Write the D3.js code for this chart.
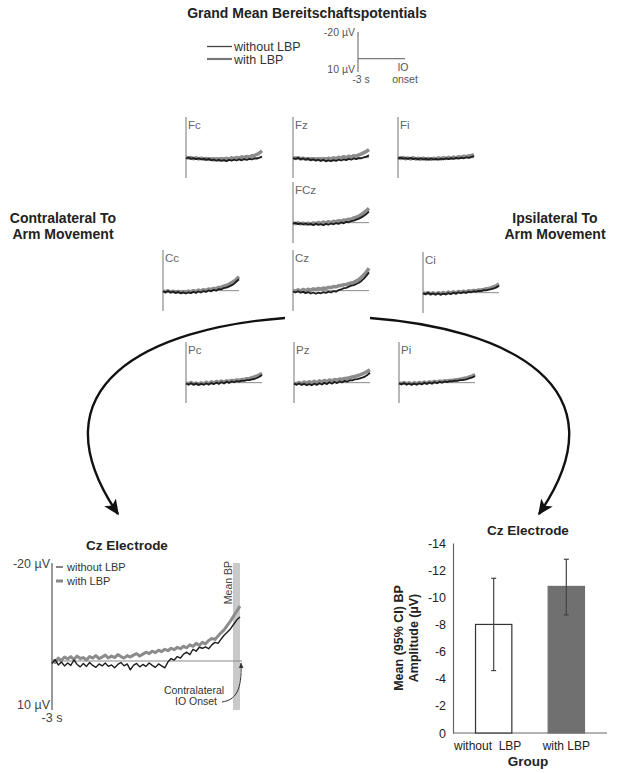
<!DOCTYPE html>
<html><head><meta charset="utf-8">
<script src="https://cdn.jsdelivr.net/npm/d3@7"></script>
<style>body{margin:0;background:#fff}svg{display:block;font-family:"Liberation Sans",Arial,sans-serif}</style>
</head><body><svg id="c" width="619" height="773"></svg>
<script>
// ---------------- DATA ----------------
const seriesNames = ["without LBP", "with LBP"];
const electrodes = ["Fc","Fz","Fi","FCz","Cc","Cz","Ci","Pc","Pz","Pi"];
// small panels: values in µV, every 100 ms from -3 s to IO onset
const smallTimes = [-3000,-2900,-2800,-2700,-2600,-2500,-2400,-2300,-2200,-2100,-2000,-1900,-1800,-1700,-1600,-1500,-1400,-1300,-1200,-1100,-1000,-900,-800,-700,-600,-500,-400,-300,-200,-100,0];
const fcWithout = [0.4,-0.1,0.6,0.2,0.7,0.3,0.9,0.5,1.1,0.6,1.3,0.9,1.5,1.0,1.6,1.2,1.7,1.1,1.5,1.0,1.4,0.8,1.3,0.7,1.1,0.6,0.9,0.4,0.5,0.0,-0.6];
const fcWith    = [-0.3,0.2,-0.1,0.5,0.1,0.6,0.2,0.8,0.4,0.9,0.6,1.1,0.7,1.2,0.5,1.0,0.3,0.8,0.1,0.5,-0.1,0.3,-0.4,0.0,-0.6,-0.3,-0.9,-1.1,-1.6,-2.3,-3.4];
const fzWithout = [0.2,0.6,0.1,0.8,0.4,1.0,0.5,1.2,0.8,1.4,1.0,1.6,1.1,1.8,1.3,1.7,1.2,1.6,1.0,1.4,0.9,1.2,0.6,1.0,0.4,0.7,0.2,0.3,-0.2,-0.5,-1.1];
const fzWith    = [-0.1,0.4,0.0,0.6,0.3,0.7,0.5,0.9,0.6,1.1,0.8,1.0,0.6,0.9,0.3,0.7,0.1,0.4,-0.2,0.2,-0.5,0.0,-0.7,-0.3,-1.0,-0.8,-1.4,-1.9,-2.5,-3.1,-4.0];
const fiWithout = [0.3,0.0,0.5,0.2,0.6,0.1,0.7,0.4,0.8,0.3,0.9,0.5,1.0,0.4,0.9,0.6,1.0,0.5,0.8,0.3,0.7,0.2,0.6,0.1,0.5,0.0,0.3,-0.2,0.1,-0.4,-0.8];
const fiWith    = [0.0,0.4,-0.1,0.5,0.2,0.6,0.0,0.7,0.3,0.8,0.2,0.9,0.4,0.8,0.3,0.7,0.1,0.6,0.0,0.4,-0.2,0.3,-0.3,0.1,-0.5,-0.2,-0.7,-0.5,-0.9,-1.1,-1.5];
const fczWithout= [0.5,0.1,0.7,0.3,0.9,0.4,1.0,0.6,1.2,0.5,1.1,0.7,1.3,0.6,1.0,0.4,0.8,0.2,0.6,-0.1,0.3,-0.4,-0.2,-0.8,-1.0,-1.5,-2.0,-2.6,-3.4,-4.3,-5.4];
const fczWith   = [0.0,0.5,0.1,0.6,0.2,0.7,0.3,0.6,0.1,0.5,-0.1,0.4,-0.3,0.2,-0.5,0.0,-0.7,-0.4,-1.0,-0.8,-1.3,-1.2,-1.7,-1.8,-2.3,-2.7,-3.3,-4.0,-4.9,-5.9,-7.0];
const ccWithout = [0.3,0.8,0.2,0.9,0.5,1.1,0.6,1.3,0.8,1.4,0.9,1.2,0.6,1.1,0.4,0.9,0.2,0.6,-0.1,0.3,-0.4,0.0,-0.8,-0.6,-1.3,-1.5,-2.0,-2.6,-3.3,-4.5,-5.6];
const ccWith    = [0.1,0.6,0.0,0.7,0.3,0.8,0.4,0.9,0.5,0.7,0.2,0.6,0.0,0.4,-0.3,0.2,-0.5,-0.1,-0.8,-0.5,-1.1,-1.0,-1.6,-1.7,-2.2,-2.6,-3.1,-3.9,-4.6,-5.6,-6.9];
const czWithout = [0.4,0.9,0.3,1.0,0.6,1.2,0.7,1.4,0.9,1.5,1.0,1.3,0.7,1.1,0.5,0.9,0.2,0.5,-0.3,-0.6,-1.2,-1.4,-2.0,-2.5,-2.7,-3.3,-3.9,-4.8,-5.9,-7.4,-9.0];
const czWith    = [-0.2,0.3,-0.4,0.2,-0.6,0.0,-0.7,-0.2,-0.9,-0.5,-1.1,-0.8,-1.3,-1.1,-1.6,-1.5,-2.0,-1.9,-2.4,-2.5,-2.9,-3.1,-3.4,-3.8,-4.1,-4.8,-5.5,-6.6,-7.8,-9.3,-11.0];
const ciWithout = [0.3,0.7,0.1,0.8,0.4,0.9,0.3,1.0,0.5,0.8,0.2,0.7,0.0,0.5,-0.2,0.3,-0.3,0.1,-0.5,-0.2,-0.7,-0.5,-0.9,-0.8,-1.2,-1.1,-1.5,-1.7,-2.1,-2.6,-3.4];
const ciWith    = [0.0,0.5,-0.1,0.6,0.1,0.7,0.0,0.6,-0.1,0.5,-0.3,0.3,-0.4,0.1,-0.6,-0.2,-0.7,-0.4,-0.9,-0.7,-1.1,-1.0,-1.3,-1.4,-1.6,-1.9,-2.1,-2.5,-2.9,-3.5,-4.2];
const pcWithout = [0.4,0.9,0.3,1.0,0.5,1.1,0.6,1.0,0.4,0.9,0.2,0.7,0.0,0.6,-0.3,0.4,-0.5,0.1,-0.6,-0.2,-0.8,-0.5,-1.0,-0.9,-1.3,-1.2,-1.6,-1.8,-2.3,-2.9,-3.8];
const pcWith    = [0.1,0.6,-0.1,0.7,0.2,0.8,0.1,0.6,-0.2,0.5,-0.4,0.2,-0.6,0.0,-0.8,-0.3,-0.9,-0.6,-1.1,-0.9,-1.3,-1.2,-1.5,-1.6,-1.9,-2.1,-2.4,-2.8,-3.3,-3.9,-4.6];
const pzWithout = [0.5,1.0,0.4,1.1,0.6,1.2,0.7,1.3,0.5,1.1,0.3,0.9,0.1,0.7,-0.2,0.5,-0.4,0.2,-0.6,-0.1,-0.9,-0.5,-1.2,-1.1,-1.6,-1.7,-2.1,-2.5,-3.0,-3.8,-4.9];
const pzWith    = [0.2,0.6,-0.1,0.5,-0.3,0.3,-0.5,0.2,-0.7,0.0,-0.9,-0.3,-1.1,-0.6,-1.3,-0.9,-1.5,-1.3,-1.8,-1.7,-2.1,-2.2,-2.5,-2.8,-3.0,-3.4,-3.8,-4.3,-4.9,-5.6,-6.3];
const piWithout = [0.4,0.8,0.2,0.9,0.4,1.0,0.5,0.9,0.3,0.8,0.1,0.6,-0.1,0.5,-0.3,0.3,-0.4,0.0,-0.6,-0.3,-0.8,-0.6,-1.0,-0.9,-1.2,-1.3,-1.5,-1.8,-2.2,-2.6,-3.3];
const piWith    = [0.1,0.5,0.0,0.6,0.1,0.7,0.0,0.6,-0.1,0.4,-0.3,0.2,-0.4,0.0,-0.6,-0.2,-0.8,-0.5,-0.9,-0.8,-1.1,-1.1,-1.3,-1.5,-1.7,-1.9,-2.2,-2.5,-2.9,-3.4,-4.0];

// large Cz panel: every 50 ms from -3 s to IO onset
const bigTimes = [-3000,-2950,-2900,-2850,-2800,-2750,-2700,-2650,-2600,-2550,-2500,-2450,-2400,-2350,-2300,-2250,-2200,-2150,-2100,-2050,-2000,-1950,-1900,-1850,-1800,-1750,-1700,-1650,-1600,-1550,-1500,-1450,-1400,-1350,-1300,-1250,-1200,-1150,-1100,-1050,-1000,-950,-900,-850,-800,-750,-700,-650,-600,-550,-500,-450,-400,-350,-300,-250,-200,-150,-100,-50,0];
const bigCzWithout = [0.5,-0.3,0.8,0.2,1.0,0.4,0.9,-0.2,0.7,1.2,0.5,1.1,0.3,0.9,1.3,0.6,1.0,0.4,1.1,0.8,1.4,0.7,0.3,1.0,0.6,1.8,0.9,0.5,1.2,0.7,1.1,0.4,0.9,1.3,0.6,1.0,1.4,0.2,-0.5,-0.2,-0.9,-0.6,-1.4,-1.8,-1.3,-2.4,-2.0,-2.8,-2.6,-2.9,-2.5,-3.3,-3.8,-3.6,-4.5,-5.3,-5.9,-6.6,-7.5,-8.4,-9.0];
const bigCzWith = [-0.2,0.3,-0.6,-0.1,-0.8,-0.4,-0.9,-0.3,-1.0,-0.5,-0.7,-0.2,-0.9,-0.6,-1.1,-0.5,-0.8,-1.2,-0.6,-1.0,-0.7,-1.3,-0.9,-0.6,-1.1,-0.8,-1.2,-1.5,-1.0,-1.4,-1.8,-1.5,-2.0,-1.7,-2.2,-1.9,-2.4,-2.1,-2.6,-2.3,-2.8,-2.5,-3.0,-2.7,-3.3,-3.0,-3.6,-3.2,-3.8,-3.5,-4.2,-4.6,-4.4,-5.1,-5.8,-6.4,-7.3,-8.2,-9.2,-10.2,-11.2];

// bar chart
const groups = ["without  LBP", "with LBP"];
const bpMean = [-8.0, -10.8];
const ciLow  = [-4.6, -8.7];
const ciHigh = [-11.4, -12.8];
const barTicks = [0,-2,-4,-6,-8,-10,-12,-14];

// ---------------- LAYOUT ----------------
const svg = d3.select("#c");
const FONT = '"Liberation Sans",Arial,sans-serif';
const colWithout = "#1c1c1c", colWith = "#8c8c8c";

const smallTable = {
  Fc:[fcWithout,fcWith], Fz:[fzWithout,fzWith], Fi:[fiWithout,fiWith], FCz:[fczWithout,fczWith],
  Cc:[ccWithout,ccWith], Cz:[czWithout,czWith], Ci:[ciWithout,ciWith],
  Pc:[pcWithout,pcWith], Pz:[pzWithout,pzWith], Pi:[piWithout,piWith]
};
const panelPos = {Fc:[186,117],Fz:[293,117],Fi:[398,117],FCz:[293,182],Cc:[163,250],Cz:[293,250],Ci:[423,252],Pc:[186,342],Pz:[294,342],Pi:[399,342]};

// Title
svg.append("text").attr("x",307).attr("y",18).attr("text-anchor","middle")
  .attr("font-size",14).attr("font-weight","bold").attr("fill","#222").text("Grand Mean Bereitschaftspotentials");

// Top legend
const lg = svg.append("g");
lg.append("line").attr("x1",207).attr("x2",232).attr("y1",46.5).attr("y2",46.5).attr("stroke","#444").attr("stroke-width",1.3);
lg.append("line").attr("x1",207).attr("x2",232).attr("y1",59).attr("y2",59).attr("stroke","#777").attr("stroke-width",2.2);
lg.append("text").attr("x",234).attr("y",51).attr("font-size",12.5).attr("fill","#333").text(seriesNames[0]);
lg.append("text").attr("x",234).attr("y",63.5).attr("font-size",12.5).attr("fill","#333").text(seriesNames[1]);

// Scale bar (legend)
const sb = svg.append("g");
const sbY = d3.scaleLinear().domain([-20,10]).range([32,72]);
const sbX = d3.scaleLinear().domain([-3000,0]).range([358,405]);
sb.append("line").attr("x1",sbX(-3000)).attr("x2",sbX(-3000)).attr("y1",sbY(-20)).attr("y2",sbY(10)).attr("stroke","#777").attr("stroke-width",1.2);
sb.append("line").attr("x1",sbX(-3000)).attr("x2",sbX(0)).attr("y1",sbY(0)).attr("y2",sbY(0)).attr("stroke","#777").attr("stroke-width",1.2);
sb.append("text").attr("x",355).attr("y",sbY(-20)+4).attr("text-anchor","end").attr("font-size",10.5).attr("fill","#555").text("-20 µV");
sb.append("text").attr("x",355).attr("y",sbY(10)+1).attr("text-anchor","end").attr("font-size",10.5).attr("fill","#555").text("10 µV");
sb.append("text").attr("x",sbX(-3000)+3).attr("y",83).attr("text-anchor","middle").attr("font-size",10.5).attr("fill","#555").text("-3 s");
sb.append("text").attr("x",sbX(0)-2).attr("y",71).attr("text-anchor","middle").attr("font-size",10.5).attr("fill","#555").text("IO");
sb.append("text").attr("x",sbX(0)).attr("y",83).attr("text-anchor","middle").attr("font-size",10.5).attr("fill","#555").text("onset");

// Small panels
electrodes.forEach(name => {
  const [px, py] = panelPos[name];
  const x = d3.scaleLinear().domain([-3000,0]).range([px, px+76]);
  const y = d3.scaleLinear().domain([-20,10]).range([py, py+61]);
  const g = svg.append("g");
  g.append("line").attr("x1",px).attr("x2",px).attr("y1",y(-20)).attr("y2",y(10)).attr("stroke","#8a8a8a").attr("stroke-width",1.2);
  g.append("line").attr("x1",px).attr("x2",x(0)).attr("y1",y(0)).attr("y2",y(0)).attr("stroke","#8a8a8a").attr("stroke-width",1);
  g.append("text").attr("x",px+2).attr("y",py+12).attr("font-size",11.5).attr("fill","#666").text(name);
  const line = d3.line().x((d,i)=>x(smallTimes[i])).y(d=>y(d));
  const [wo, wi] = smallTable[name];
  g.append("path").attr("d",line(wi)).attr("fill","none").attr("stroke",colWith).attr("stroke-width",3.5).attr("stroke-linejoin","round");
  g.append("path").attr("d",line(wo)).attr("fill","none").attr("stroke",colWithout).attr("stroke-width",1.8).attr("stroke-linejoin","round");
});

// Side labels
[["Contralateral To",63,223],["Arm Movement",63,239],["Ipsilateral To",555,223],["Arm Movement",555,239]].forEach(([t,x,y])=>{
  svg.append("text").attr("x",x).attr("y",y).attr("text-anchor","middle").attr("font-size",14).attr("font-weight","bold").attr("fill","#222").text(t);
});

// Arrows
const defs = svg.append("defs");
defs.append("marker").attr("id","ah").attr("viewBox","0 0 10 10").attr("refX",9).attr("refY",5)
  .attr("markerWidth",6.5).attr("markerHeight",6.5).attr("markerUnits","strokeWidth").attr("orient","auto")
  .append("path").attr("d","M0,0.5 L10,5 L0,9.5 L2.5,5 Z").attr("fill","#111");
defs.append("marker").attr("id","ahs").attr("viewBox","0 0 10 10").attr("refX",9).attr("refY",5)
  .attr("markerWidth",6).attr("markerHeight",6).attr("markerUnits","userSpaceOnUse").attr("orient","auto")
  .append("path").attr("d","M0,1 L10,5 L0,9 Z").attr("fill","#333");
svg.append("path").attr("d","M285,318 C150,328 30,385 118,514").attr("fill","none").attr("stroke","#111").attr("stroke-width",2.4).attr("marker-end","url(#ah)");
svg.append("path").attr("d","M370,318 C505,328 628,385 539,514").attr("fill","none").attr("stroke","#111").attr("stroke-width",2.4).attr("marker-end","url(#ah)");

// Large Cz panel
const bx = d3.scaleLinear().domain([-3000,0]).range([52,240]);
const by = d3.scaleLinear().domain([-20,10]).range([563,710]);
const bg = svg.append("g");
bg.append("text").attr("x",127).attr("y",550).attr("text-anchor","middle").attr("font-size",13.5).attr("font-weight","bold").attr("fill","#222").text("Cz Electrode");
bg.append("rect").attr("x",bx(0)-7).attr("width",7).attr("y",by(-20)).attr("height",by(10)-by(-20)).attr("fill","#c9c9c9");
bg.append("text").attr("transform",`translate(${bx(0)-8},${by(-11.6)}) rotate(-90)`).attr("font-size",10.5).attr("fill","#444").text("Mean BP");
bg.append("line").attr("x1",bx(-3000)).attr("x2",bx(-3000)).attr("y1",by(-20)).attr("y2",by(10)).attr("stroke","#9a9a9a").attr("stroke-width",2);
bg.append("line").attr("x1",bx(-3000)).attr("x2",bx(0)+2).attr("y1",by(0)).attr("y2",by(0)).attr("stroke","#8a8a8a").attr("stroke-width",1.2);
const bline = d3.line().x((d,i)=>bx(bigTimes[i])).y(d=>by(d));
bg.append("path").attr("d",bline(bigCzWith)).attr("fill","none").attr("stroke",colWith).attr("stroke-width",3).attr("stroke-linejoin","round");
bg.append("path").attr("d",bline(bigCzWithout)).attr("fill","none").attr("stroke",colWithout).attr("stroke-width",1.4).attr("stroke-linejoin","round");
bg.append("text").attr("x",50).attr("y",by(-20)+5).attr("text-anchor","end").attr("font-size",12.5).attr("fill","#444").text("-20 µV");
bg.append("text").attr("x",50).attr("y",by(10)-1).attr("text-anchor","end").attr("font-size",12.5).attr("fill","#444").text("10 µV");
bg.append("text").attr("x",bx(-3000)).attr("y",722).attr("text-anchor","middle").attr("font-size",12.5).attr("fill","#444").text("-3 s");
bg.append("line").attr("x1",56).attr("x2",63).attr("y1",567).attr("y2",567).attr("stroke","#333").attr("stroke-width",1.2);
bg.append("line").attr("x1",56).attr("x2",63).attr("y1",581).attr("y2",581).attr("stroke","#888").attr("stroke-width",3);
bg.append("text").attr("x",67).attr("y",571).attr("font-size",11).attr("fill","#333").text(seriesNames[0]);
bg.append("text").attr("x",67).attr("y",585).attr("font-size",11).attr("fill","#333").text(seriesNames[1]);
bg.append("text").attr("x",194).attr("y",694).attr("text-anchor","middle").attr("font-size",10.5).attr("fill","#333").text("Contralateral");
bg.append("text").attr("x",196).attr("y",705).attr("text-anchor","middle").attr("font-size",10.5).attr("fill","#333").text("IO Onset");
bg.append("path").attr("d",`M222,702 C236,700 242,690 ${bx(0)+1},${by(0)+2}`).attr("fill","none").attr("stroke","#333").attr("stroke-width",1).attr("marker-end","url(#ahs)");

// Bar chart
const rx = d3.scaleBand().domain(groups).range([461,599]).paddingInner(0.5).paddingOuter(0.2);
const ry = d3.scaleLinear().domain([0,-14]).range([733,543]);
const rg = svg.append("g");
rg.append("text").attr("x",528).attr("y",535).attr("text-anchor","middle").attr("font-size",13.5).attr("font-weight","bold").attr("fill","#222").text("Cz Electrode");
rg.append("g").attr("transform","translate(453,0)")
  .call(d3.axisLeft(ry).tickValues(barTicks).tickSize(0).tickPadding(7).tickFormat(d => String(d)))
  .call(g=>{g.select(".domain").attr("stroke","#666").attr("stroke-width",1.2);
            g.selectAll("text").attr("font-family",FONT).attr("font-size",12.5).attr("fill","#222");});
rg.append("line").attr("x1",453).attr("x2",607).attr("y1",ry(0)).attr("y2",ry(0)).attr("stroke","#666").attr("stroke-width",1.2);
groups.forEach((gname,i)=>{
  rg.append("rect").attr("x",rx(gname)).attr("width",rx.bandwidth()).attr("y",ry(bpMean[i])).attr("height",ry(0)-ry(bpMean[i]))
    .attr("fill", i===0 ? "#fff" : "#707070").attr("stroke", i===0 ? "#333" : "#707070").attr("stroke-width",1.2);
  const cx = rx(gname)+rx.bandwidth()/2;
  rg.append("line").attr("x1",cx).attr("x2",cx).attr("y1",ry(ciLow[i])).attr("y2",ry(ciHigh[i])).attr("stroke","#444").attr("stroke-width",1.2);
  [ciLow[i],ciHigh[i]].forEach(v=>rg.append("line").attr("x1",cx-2.5).attr("x2",cx+2.5).attr("y1",ry(v)).attr("y2",ry(v)).attr("stroke","#444").attr("stroke-width",1.2));
  rg.append("text").attr("x",cx-(i===0?6:0)).attr("y",750).attr("text-anchor","middle").attr("font-size",12).attr("fill","#222").attr("xml:space","preserve").text(gname);
});
rg.append("text").attr("x",528).attr("y",766).attr("text-anchor","middle").attr("font-size",13.5).attr("font-weight","bold").attr("fill","#222").text("Group");
rg.append("text").attr("transform","translate(403,638) rotate(-90)").attr("text-anchor","middle").attr("font-size",12.5).attr("font-weight","bold").attr("fill","#222").text("Mean (95% CI) BP");
rg.append("text").attr("transform","translate(418,638) rotate(-90)").attr("text-anchor","middle").attr("font-size",12.5).attr("font-weight","bold").attr("fill","#222").text("Amplitude (µV)");
</script></body></html>
